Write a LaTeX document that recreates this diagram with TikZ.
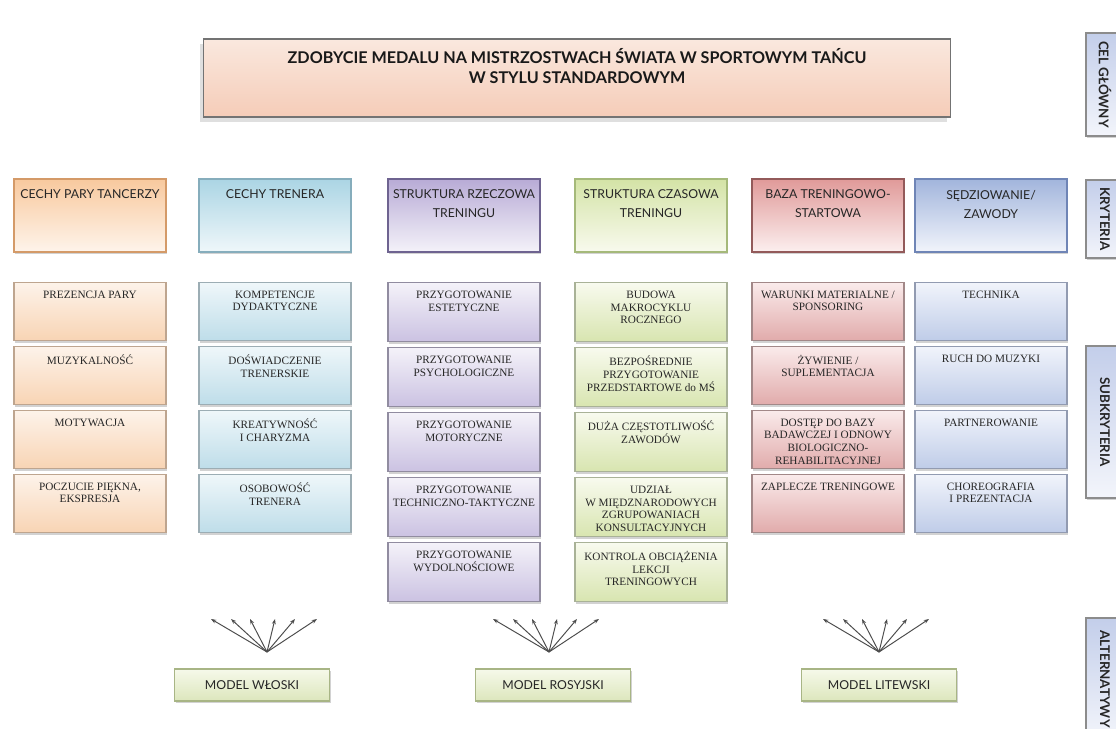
\documentclass[tikz,border=0pt]{standalone}
\usepackage{fontspec}
\usetikzlibrary{positioning,shadows,arrows.meta}

\newfontfamily\latofont{Lato}
\newfontfamily\timesfont{Liberation Serif}
\newcommand{\topfont}{\latofont\bfseries\fontsize{9.2}{11.8}\selectfont}
\newcommand{\critfont}{\latofont\fontsize{7}{10.8}\selectfont}
\newcommand{\subfont}{\timesfont\fontsize{6.4}{7.2}\selectfont}
\newcommand{\levfont}{\latofont\bfseries\fontsize{7.6}{9}\selectfont}

% kolory kolumn: KT/KB kryterium, ST/SB subkryteria, LN ramka
\definecolor{paraKT}{HTML}{F8C99E}
\definecolor{paraKB}{HTML}{FEF4EB}
\definecolor{paraST}{HTML}{FDF3EA}
\definecolor{paraSB}{HTML}{F8D4B4}
\definecolor{paraLN}{HTML}{D49A68}
\definecolor{trenKT}{HTML}{ABD5E4}
\definecolor{trenKB}{HTML}{EFF7FA}
\definecolor{trenST}{HTML}{EFF7FA}
\definecolor{trenSB}{HTML}{BEDDE9}
\definecolor{trenLN}{HTML}{86ADBC}
\definecolor{rzeczKT}{HTML}{B8ABD6}
\definecolor{rzeczKB}{HTML}{F4F2F9}
\definecolor{rzeczST}{HTML}{F4F2F9}
\definecolor{rzeczSB}{HTML}{CBC2E2}
\definecolor{rzeczLN}{HTML}{6E6390}
\definecolor{czasKT}{HTML}{D4E3A6}
\definecolor{czasKB}{HTML}{F8FAEE}
\definecolor{czasST}{HTML}{F8FAEE}
\definecolor{czasSB}{HTML}{D8E5B0}
\definecolor{czasLN}{HTML}{A5B97A}
\definecolor{bazaKT}{HTML}{E09A99}
\definecolor{bazaKB}{HTML}{FCEFEF}
\definecolor{bazaST}{HTML}{FAEBEB}
\definecolor{bazaSB}{HTML}{E1ABAB}
\definecolor{bazaLN}{HTML}{935A5A}
\definecolor{sedzKT}{HTML}{A2B5DC}
\definecolor{sedzKB}{HTML}{F1F4FB}
\definecolor{sedzST}{HTML}{F1F4FB}
\definecolor{sedzSB}{HTML}{BFCCE8}
\definecolor{sedzLN}{HTML}{6F85B6}
\definecolor{celT}{HTML}{FAE8DE}
\definecolor{celB}{HTML}{F5CCB8}
\definecolor{modT}{HTML}{F6F9EA}
\definecolor{modB}{HTML}{DCE6BC}
\definecolor{modLN}{HTML}{A8B585}
\definecolor{levL}{HTML}{F3F5FB}
\definecolor{levR}{HTML}{C3CEEA}

\tikzset{
  softshadow/.style={drop shadow={shadow xshift=0.7pt, shadow yshift=-1.4pt, opacity=0.35}},
  basebox/.style={rectangle, inner xsep=0pt, line width=0.6pt},
  topbox/.style={basebox, inner ysep=0.18cm, top color=celT, bottom color=celB, draw=black!55,
    drop shadow={shadow xshift=-2pt, shadow yshift=-3pt, opacity=0.25},
    execute at begin node={\begin{minipage}[t][1.2cm][t]{14.96cm}\centering\topfont\color{black!90}},
    execute at end node={\end{minipage}}},
  critbox/.style={basebox, softshadow, inner ysep=0.22cm, top color=#1KT, bottom color=#1KB, draw=#1LN,
    execute at begin node={\begin{minipage}[t][1.02cm][t]{3.04cm}\centering\critfont\color{black!85}},
    execute at end node={\end{minipage}}},
  subbox/.style={basebox, softshadow, inner ysep=0.17cm, top color=#1ST, bottom color=#1SB, draw=#1LN!55!gray!80,
    execute at begin node={\begin{minipage}[t][0.83cm][t]{3.04cm}\centering\subfont\color{black!85}},
    execute at end node={\end{minipage}}},
  modelbox/.style={basebox, softshadow, inner ysep=0pt, minimum width=3.1cm, minimum height=0.64cm,
    top color=modT, bottom color=modB, draw=modLN, font=\critfont, text=black!85},
  levbox/.style={rectangle, rotate=-90, inner sep=0pt, line width=0.6pt, draw=black!45, minimum height=0.76cm,
    top color=levR, bottom color=levL, font=\levfont, text=black!85, softshadow},
  fanarrow/.style={draw=black!70, line width=0.55pt, -{Stealth[length=3pt,width=2.2pt]}},
}

\begin{document}
\begin{tikzpicture}[x=0.02cm, y=-0.02cm]
\clip (0,0) rectangle (1116,729);
\fill[white] (0,0) rectangle (1116,729);
% cel glowny
\node[topbox] (cel) at (577,78) {ZDOBYCIE MEDALU NA MISTRZOSTWACH ŚWIATA W SPORTOWYM TAŃCU\\W STYLU STANDARDOWYM};
% kryteria
\node[critbox=para] (k1) at (90,215.5) {CECHY PARY TANCERZY};
\node[critbox=tren] (k2) at (275,215.5) {CECHY TRENERA};
\node[critbox=rzecz] (k3) at (464,215.5) {STRUKTURA RZECZOWA\\TRENINGU};
\node[critbox=czas] (k4) at (651,215.5) {STRUKTURA CZASOWA\\TRENINGU};
\node[critbox=baza] (k5) at (828,215.5) {BAZA TRENINGOWO-\\STARTOWA};
\node[critbox=sedz] (k6) at (991,215.5) {SĘDZIOWANIE/\\ZAWODY};
% subkryteria
\node[subbox=para] (s11) at (90,311.5) {PREZENCJA PARY};
\node[subbox=para] (s12) at (90,375.5) {MUZYKALNOŚĆ};
\node[subbox=para] (s13) at (90,439.5) {MOTYWACJA};
\node[subbox=para] (s14) at (90,503.5) {POCZUCIE PIĘKNA,\\EKSPRESJA};
\node[subbox=tren] (s21) at (275,311.5) {KOMPETENCJE\\DYDAKTYCZNE};
\node[subbox=tren] (s22) at (275,375.5) {DOŚWIADCZENIE\\TRENERSKIE};
\node[subbox=tren] (s23) at (275,439.5) {KREATYWNOŚĆ\\I CHARYZMA};
\node[subbox=tren] (s24) at (275,503.5) {OSOBOWOŚĆ\\TRENERA};
\node[subbox=rzecz] (s31) at (464,312) {PRZYGOTOWANIE\\ESTETYCZNE};
\node[subbox=rzecz] (s32) at (464,377) {PRZYGOTOWANIE\\PSYCHOLOGICZNE};
\node[subbox=rzecz] (s33) at (464,442) {PRZYGOTOWANIE\\MOTORYCZNE};
\node[subbox=rzecz] (s34) at (464,507) {PRZYGOTOWANIE\\TECHNICZNO-TAKTYCZNE};
\node[subbox=rzecz] (s35) at (464,572) {PRZYGOTOWANIE\\WYDOLNOŚCIOWE};
\node[subbox=czas] (s41) at (651,312) {BUDOWA\\MAKROCYKLU\\ROCZNEGO};
\node[subbox=czas] (s42) at (651,377) {BEZPOŚREDNIE\\PRZYGOTOWANIE\\PRZEDSTARTOWE do MŚ};
\node[subbox=czas] (s43) at (651,442) {DUŻA CZĘSTOTLIWOŚĆ\\ZAWODÓW};
\node[subbox=czas] (s44) at (651,507) {UDZIAŁ\\W MIĘDZNARODOWYCH\\ZGRUPOWANIACH\\KONSULTACYJNYCH};
\node[subbox=czas] (s45) at (651,572) {KONTROLA OBCIĄŻENIA\\LEKCJI\\TRENINGOWYCH};
\node[subbox=baza] (s51) at (828,311.5) {WARUNKI MATERIALNE /\\SPONSORING};
\node[subbox=baza] (s52) at (828,375.5) {ŻYWIENIE /\\SUPLEMENTACJA};
\node[subbox=baza] (s53) at (828,439.5) {DOSTĘP DO BAZY\\BADAWCZEJ I ODNOWY\\BIOLOGICZNO-\\REHABILITACYJNEJ};
\node[subbox=baza] (s54) at (828,503.5) {ZAPLECZE TRENINGOWE};
\node[subbox=sedz] (s61) at (991,311.5) {TECHNIKA};
\node[subbox=sedz] (s62) at (991,375.5) {RUCH DO MUZYKI};
\node[subbox=sedz] (s63) at (991,439.5) {PARTNEROWANIE};
\node[subbox=sedz] (s64) at (991,503.5) {CHOREOGRAFIA\\I PREZENTACJA};
% alternatywy
\node[modelbox] (mw) at (252,685) {MODEL WŁOSKI};
\node[modelbox] (mr) at (553,685) {MODEL ROSYJSKI};
\node[modelbox] (ml) at (879,685) {MODEL LITEWSKI};
\coordinate (wap) at (267,652);
\coordinate (w1) at (211,619); \coordinate (w2) at (231,619); \coordinate (w3) at (250,619);
\coordinate (w4) at (275,619); \coordinate (w5) at (295,619); \coordinate (w6) at (317,619);
\coordinate (rap) at (549,652);
\coordinate (r1) at (493,619); \coordinate (r2) at (513,619); \coordinate (r3) at (532,619);
\coordinate (r4) at (557,619); \coordinate (r5) at (577,619); \coordinate (r6) at (599,619);
\coordinate (lap) at (879,652);
\coordinate (l1) at (823,619); \coordinate (l2) at (843,619); \coordinate (l3) at (862,619);
\coordinate (l4) at (887,619); \coordinate (l5) at (907,619); \coordinate (l6) at (929,619);
\draw[fanarrow] (wap) -- (w1); \draw[fanarrow] (wap) -- (w2); \draw[fanarrow] (wap) -- (w3);
\draw[fanarrow] (wap) -- (w4); \draw[fanarrow] (wap) -- (w5); \draw[fanarrow] (wap) -- (w6);
\draw[fanarrow] (rap) -- (r1); \draw[fanarrow] (rap) -- (r2); \draw[fanarrow] (rap) -- (r3);
\draw[fanarrow] (rap) -- (r4); \draw[fanarrow] (rap) -- (r5); \draw[fanarrow] (rap) -- (r6);
\draw[fanarrow] (lap) -- (l1); \draw[fanarrow] (lap) -- (l2); \draw[fanarrow] (lap) -- (l3);
\draw[fanarrow] (lap) -- (l4); \draw[fanarrow] (lap) -- (l5); \draw[fanarrow] (lap) -- (l6);
% poziomy hierarchii
\node[levbox, minimum width=2.06cm] (lev1) at (1105,84.5) {CEL GŁÓWNY};
\node[levbox, minimum width=1.56cm] (lev2) at (1105,219) {KRYTERIA};
\node[levbox, minimum width=3.04cm] (lev3) at (1105,422) {SUBKRYTERIA};
\node[levbox, minimum width=2.44cm] (lev4) at (1105,679) {ALTERNATYWY};
\end{tikzpicture}
\end{document}
